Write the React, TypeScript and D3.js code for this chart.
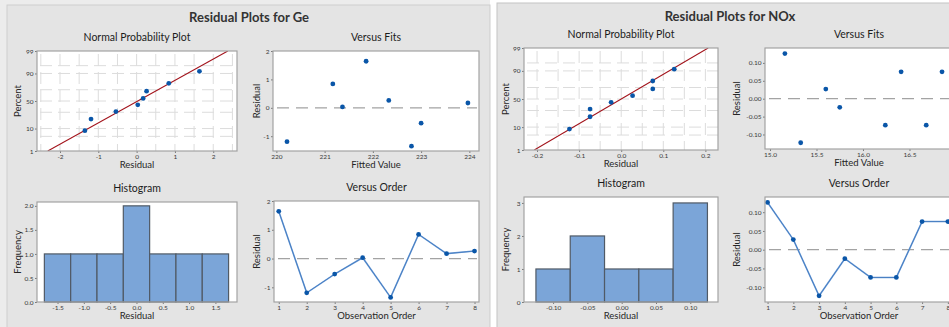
import React, { useRef, useEffect } from 'react';
import * as d3 from 'd3';

// ---- Ge ----
const geResiduals = [1.64, -1.19, -0.54, 0.03, -1.35, 0.84, 0.17, 0.26];
const geFitted = [221.86, 220.22, 223.0, 221.37, 222.8, 221.17, 223.97, 222.33];
const gePercent = [8.4, 20.0, 31.2, 42.9, 54.8, 67.7, 79.4, 91.6];
const geLine = { mean: 0.03, sd: 1.01 };
const geBins = [-1.5, -1.0, -0.5, 0.0, 0.5, 1.0, 1.5];
const geCounts = [1, 1, 1, 2, 1, 1, 1];

// ---- NOx ----
const noxResiduals = [0.126, 0.027, -0.123, -0.024, -0.074, -0.074, 0.075, 0.075];
const noxFitted = [15.16, 15.6, 15.33, 15.75, 16.24, 16.68, 16.41, 16.85];
const noxPercent = [8.5, 20.9, 32.3, 44.0, 56.0, 67.7, 79.4, 91.3];
const noxLine = { mean: 0.0, sd: 0.0888 };
const noxBins = [-0.1, -0.05, 0.0, 0.05, 0.1];
const noxCounts = [1, 2, 1, 1, 3];

const observation = [1, 2, 3, 4, 5, 6, 7, 8];
const percentTicks = [1, 10, 50, 90, 99];
const percentGrid = [5, 10, 30, 50, 70, 90, 95];

const FONT = 'Lato, "Open Sans", sans-serif';
const BLUE = '#0a56a8';

// inverse normal cdf (Acklam)
function probit(p: number) {
  const a = [-39.69683028665376, 220.9460984245205, -275.9285104469687, 138.357751867269, -30.66479806614716, 2.506628277459239];
  const b = [-54.47609879822406, 161.5858368580409, -155.6989798598866, 66.80131188771972, -13.28068155288572];
  const c = [-0.007784894002430293, -0.3223964580411365, -2.400758277161838, -2.549732539343734, 4.374664141464968, 2.938163982698783];
  const d = [0.007784695709041462, 0.3224671290700398, 2.445134137142996, 3.754408661907416];
  const pl = 0.02425;
  if (p < pl) {
    const q = Math.sqrt(-2 * Math.log(p));
    return (((((c[0] * q + c[1]) * q + c[2]) * q + c[3]) * q + c[4]) * q + c[5]) / ((((d[0] * q + d[1]) * q + d[2]) * q + d[3]) * q + 1);
  }
  if (p > 1 - pl) {
    const q = Math.sqrt(-2 * Math.log(1 - p));
    return -(((((c[0] * q + c[1]) * q + c[2]) * q + c[3]) * q + c[4]) * q + c[5]) / ((((d[0] * q + d[1]) * q + d[2]) * q + d[3]) * q + 1);
  }
  const q = p - 0.5, r = q * q;
  return (((((a[0] * r + a[1]) * r + a[2]) * r + a[3]) * r + a[4]) * r + a[5]) * q / (((((b[0] * r + b[1]) * r + b[2]) * r + b[3]) * r + b[4]) * r + 1);
}

const fmt = (spec: string) => (v: any) => d3.format(spec)(v).replace('\u2212', '-');

type Box = { x: number; y: number; w: number; h: number };

function frame(svg: any, b: Box, title: string, xLabel: string, yLabel: string, yLabelX: number) {
  svg.append('rect')
    .attr('x', b.x).attr('y', b.y).attr('width', b.w).attr('height', b.h)
    .attr('fill', '#fff');
  svg.append('text')
    .attr('x', b.x + b.w / 2).attr('y', b.y - 10)
    .attr('text-anchor', 'middle')
    .style('font-size', '10.5px').style('fill', '#1c1c1c')
    .text(title);
  svg.append('text')
    .attr('x', b.x + b.w / 2).attr('y', b.y + b.h + 17)
    .attr('text-anchor', 'middle')
    .style('font-size', '9.5px').style('fill', '#262626')
    .text(xLabel);
  svg.append('text')
    .attr('transform', `translate(${yLabelX},${b.y + b.h / 2}) rotate(-90)`)
    .attr('text-anchor', 'middle')
    .style('font-size', '9.5px').style('fill', '#262626')
    .text(yLabel);
}

function border(svg: any, b: Box) {
  svg.append('rect')
    .attr('x', b.x).attr('y', b.y).attr('width', b.w).attr('height', b.h)
    .attr('fill', 'none').attr('stroke', '#a3a3a3').attr('stroke-width', 1.2);
}

function axes(svg: any, b: Box, x: any, y: any, xTicks: number[], yTicks: number[], xf: any, yf: any) {
  const gx = svg.append('g')
    .attr('transform', `translate(0,${b.y + b.h})`)
    .call(d3.axisBottom(x).tickValues(xTicks).tickFormat(xf).tickSize(2).tickPadding(1.5));
  const gy = svg.append('g')
    .attr('transform', `translate(${b.x},0)`)
    .call(d3.axisLeft(y).tickValues(yTicks).tickFormat(yf).tickSize(2).tickPadding(1.5));
  [gx, gy].forEach(g => {
    g.select('.domain').remove();
    g.selectAll('line').attr('stroke', '#7a7a7a');
    g.selectAll('text').style('font-size', '6.5px').style('font-family', FONT).attr('fill', '#3a3a3a');
  });
}

function probPlot(svg: any, b: Box, residuals: number[], percent: number[], line: { mean: number; sd: number },
  xDomain: number[], xTicks: number[], xGrid: number[], xf: any, yLabelX: number) {
  frame(svg, b, 'Normal Probability Plot', 'Residual', 'Percent', yLabelX);
  const x = d3.scaleLinear().domain(xDomain).range([b.x, b.x + b.w]);
  const y = d3.scaleLinear().domain([probit(0.01), probit(0.99)]).range([b.y + b.h, b.y]);

  const grid = svg.append('g').attr('stroke', '#dcdcdc').attr('stroke-width', 1).attr('stroke-dasharray', '12,6');
  xGrid.forEach(v => grid.append('line').attr('x1', x(v)).attr('x2', x(v)).attr('y1', b.y + 3).attr('y2', b.y + b.h));
  percentGrid.forEach(p => grid.append('line').attr('x1', b.x + 3).attr('x2', b.x + b.w).attr('y1', y(probit(p / 100))).attr('y2', y(probit(p / 100))));

  const clipId = 'clip' + Math.round(b.x);
  svg.append('clipPath').attr('id', clipId).append('rect')
    .attr('x', b.x).attr('y', b.y).attr('width', b.w).attr('height', b.h);
  const zs = [probit(0.01), probit(0.99)];
  svg.append('line')
    .attr('clip-path', `url(#${clipId})`)
    .attr('x1', x(line.mean + line.sd * zs[0])).attr('y1', y(zs[0]))
    .attr('x2', x(line.mean + line.sd * zs[1])).attr('y2', y(zs[1]))
    .attr('stroke', '#a3141c').attr('stroke-width', 1.1);

  const sorted = d3.sort(residuals);
  svg.append('g').selectAll('circle').data(sorted).enter().append('circle')
    .attr('cx', (d: number) => x(d))
    .attr('cy', (_: number, i: number) => y(probit(percent[i] / 100)))
    .attr('r', 2.4).attr('fill', BLUE);

  const yTicks = percentTicks.map(p => probit(p / 100));
  axes(svg, b, x, y, xTicks, yTicks, xf, (v: number) => String(percentTicks[yTicks.indexOf(v)]));
  border(svg, b);
}

function zeroLine(svg: any, b: Box, y: any) {
  svg.append('line')
    .attr('x1', b.x + 4).attr('x2', b.x + b.w - 2)
    .attr('y1', y(0)).attr('y2', y(0))
    .attr('stroke', '#a3a3a3').attr('stroke-width', 1.2).attr('stroke-dasharray', '12,7');
}

function fitsPlot(svg: any, b: Box, fitted: number[], residuals: number[], xDomain: number[], yDomain: number[],
  xTicks: number[], yTicks: number[], xf: any, yf: any, yLabelX: number) {
  frame(svg, b, 'Versus Fits', 'Fitted Value', 'Residual', yLabelX);
  const x = d3.scaleLinear().domain(xDomain).range([b.x, b.x + b.w]);
  const y = d3.scaleLinear().domain(yDomain).range([b.y + b.h, b.y]);
  zeroLine(svg, b, y);
  svg.append('g').selectAll('circle').data(fitted).enter().append('circle')
    .attr('cx', (d: number) => x(d))
    .attr('cy', (_: number, i: number) => y(residuals[i]))
    .attr('r', 2.4).attr('fill', BLUE);
  axes(svg, b, x, y, xTicks, yTicks, xf, yf);
  border(svg, b);
}

function histPlot(svg: any, b: Box, bins: number[], counts: number[], width: number, xDomain: number[], yDomain: number[],
  yTicks: number[], xf: any, yf: any, yLabelX: number) {
  frame(svg, b, 'Histogram', 'Residual', 'Frequency', yLabelX);
  const x = d3.scaleLinear().domain(xDomain).range([b.x, b.x + b.w]);
  const y = d3.scaleLinear().domain(yDomain).range([b.y + b.h, b.y]);
  svg.append('g').selectAll('rect').data(bins).enter().append('rect')
    .attr('x', (d: number) => x(d - width / 2))
    .attr('width', (d: number) => x(d + width / 2) - x(d - width / 2))
    .attr('y', (_: number, i: number) => y(counts[i]))
    .attr('height', (_: number, i: number) => y(0) - y(counts[i]))
    .attr('fill', '#7ba5d8').attr('stroke', '#505a66').attr('stroke-width', 1.2);
  axes(svg, b, x, y, bins, yTicks, xf, yf);
  border(svg, b);
}

function orderPlot(svg: any, b: Box, residuals: number[], xDomain: number[], yDomain: number[],
  yTicks: number[], yf: any, yLabelX: number) {
  frame(svg, b, 'Versus Order', 'Observation Order', 'Residual', yLabelX);
  const x = d3.scaleLinear().domain(xDomain).range([b.x, b.x + b.w]);
  const y = d3.scaleLinear().domain(yDomain).range([b.y + b.h, b.y]);
  zeroLine(svg, b, y);
  const line = d3.line<number>().x((_, i) => x(observation[i])).y(d => y(d));
  svg.append('path').datum(residuals).attr('d', line)
    .attr('fill', 'none').attr('stroke', '#74a2da').attr('stroke-width', 1.6);
  svg.append('path').datum(residuals).attr('d', line)
    .attr('fill', 'none').attr('stroke', '#2a66b2').attr('stroke-width', 0.6);
  svg.append('g').selectAll('circle').data(residuals).enter().append('circle')
    .attr('cx', (_: number, i: number) => x(observation[i]))
    .attr('cy', (d: number) => y(d))
    .attr('r', 2.4).attr('fill', BLUE);
  axes(svg, b, x, y, observation, yTicks, fmt('d'), yf);
  border(svg, b);
}

const App = () => {
  const svgRef = useRef<SVGSVGElement>(null);

  useEffect(() => {
    document.body.style.margin = '0';
    const svg = d3.select(svgRef.current);
    svg.selectAll('*').remove();
    svg.style('font-family', FONT);

    // panels
    svg.append('rect').attr('x', 0).attr('y', 0).attr('width', 490).attr('height', 327).attr('fill', '#ececec');
    svg.append('rect').attr('x', 7).attr('y', 5).attr('width', 483).attr('height', 330)
      .attr('fill', '#e4e4e4').attr('stroke', '#cdcdcd');
    svg.append('rect').attr('x', 497).attr('y', 3).attr('width', 470).attr('height', 330)
      .attr('fill', '#e4e4e4').attr('stroke', '#c4c4c4');

    svg.append('text').attr('x', 249).attr('y', 22).attr('text-anchor', 'middle')
      .style('font-size', '13px').style('font-weight', 'bold').style('fill', '#333')
      .text('Residual Plots for Ge');
    svg.append('text').attr('x', 730).attr('y', 21).attr('text-anchor', 'middle')
      .style('font-size', '13px').style('font-weight', 'bold').style('fill', '#333')
      .text('Residual Plots for NOx');

    // Ge
    probPlot(svg, { x: 37, y: 51, w: 200, h: 100 }, geResiduals, gePercent, geLine,
      [-2.6, 2.62], [-2, -1, 0, 1, 2], d3.range(-5, 6).map(k => k * 0.5), fmt('d'), 20.5);
    fitsPlot(svg, { x: 273, y: 51, w: 206, h: 100 }, geFitted, geResiduals, [219.93, 224.2], [-1.52, 2.0],
      [220, 221, 222, 223, 224], [-1, 0, 1, 2], fmt('d'), fmt('d'), 260);
    histPlot(svg, { x: 37, y: 202, w: 200, h: 100 }, geBins, geCounts, 0.5, [-1.89, 1.91], [0, 2.08],
      [0, 0.5, 1, 1.5, 2], fmt('.1f'), fmt('.1f'), 20.5);
    orderPlot(svg, { x: 274, y: 201, w: 205, h: 101 }, geResiduals, [0.83, 8.16], [-1.51, 2.0],
      [-1, 0, 1, 2], fmt('d'), 260);

    // NOx
    probPlot(svg, { x: 524, y: 48, w: 194, h: 102 }, noxResiduals, noxPercent, noxLine,
      [-0.231, 0.23], [-0.2, -0.1, 0, 0.1, 0.2], d3.range(-4, 5).map(k => k * 0.05), fmt('.1f'), 509);
    fitsPlot(svg, { x: 765, y: 48, w: 188, h: 101 }, noxFitted, noxResiduals, [14.946, 16.968], [-0.1405, 0.1416],
      [15.0, 15.5, 16.0, 16.5], [-0.1, -0.05, 0, 0.05, 0.1], fmt('.1f'), fmt('.2f'), 740);
    histPlot(svg, { x: 524, y: 197, w: 194, h: 105 }, noxBins, noxCounts, 0.05, [-0.1424, 0.1404], [0, 3.18],
      [0, 1, 2, 3], fmt('.2f'), fmt('d'), 509);
    orderPlot(svg, { x: 765, y: 197, w: 188, h: 105 }, noxResiduals, [0.9, 8.2], [-0.1395, 0.1405],
      [-0.1, -0.05, 0, 0.05, 0.1], fmt('.2f'), 740);
  }, []);

  return <svg ref={svgRef} width={949} height={327} style={{ display: 'block', background: '#fff' }} />;
};

export default App;
